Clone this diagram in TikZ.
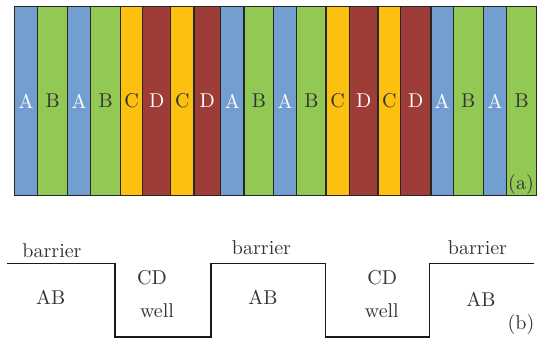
\documentclass[tikz,border=0pt]{standalone}
\begin{document}
\begin{tikzpicture}[x=0.5pt,y=-0.5pt,
  cell/.style={draw=black!85, line width=0.7pt, inner sep=0pt, minimum height=94.5pt, font=\fontsize{10}{12}\selectfont},
  cellA/.style={cell, fill=colA, text=white},
  cellB/.style={cell, fill=colB, text=black!80},
  cellC/.style={cell, fill=colC, text=black!80},
  cellD/.style={cell, fill=colD, text=white},
  lbl/.style={inner sep=0pt, text=black!80, font=\fontsize{10}{12}\selectfont},
  pot/.style={draw=black!90, line width=0.8pt}
]
\definecolor{colA}{RGB}{114,159,207}
\definecolor{colB}{RGB}{146,200,84}
\definecolor{colC}{RGB}{252,192,17}
\definecolor{colD}{RGB}{158,61,56}
\useasboundingbox (0,0) rectangle (544,338);
\foreach \i/\l/\r/\t in {1/14.3/37.7/A, 2/37.7/67.7/B, 3/67.7/90.7/A, 4/90.7/120.7/B,
  5/120.7/142.7/C, 6/142.7/170.7/D, 7/170.7/194/C, 8/194/220.7/D,
  9/220.7/244/A, 10/244/273.7/B, 11/273.7/296.7/A, 12/296.7/326/B,
  13/326/349.3/C, 14/349.3/378/D, 15/378/400.7/C, 16/400.7/431/D,
  17/431/453.3/A, 18/453.3/483.3/B, 19/483.3/506.7/A, 20/506.7/536.7/B}
{
  \node[cell\t, minimum width={(\r-\l)*0.5pt}] (c\i) at ({(\l+\r)/2},101) {\t};
}
\node[lbl] (la) at (521,184) {(a)};
% potential profile
\coordinate (p0) at (7,263.3);
\coordinate (p1) at (115,263.3);
\coordinate (p2) at (115,336.7);
\coordinate (p3) at (211,336.7);
\coordinate (p4) at (211,263.3);
\coordinate (p5) at (325.3,263.3);
\coordinate (p6) at (325.3,336.7);
\coordinate (p7) at (429.3,336.7);
\coordinate (p8) at (429.3,263.3);
\coordinate (p9) at (533.7,263.3);
\draw[pot] (p0) -- (p1) -- (p2) -- (p3) -- (p4) -- (p5) -- (p6) -- (p7) -- (p8) -- (p9);
\node[lbl] (b1) at (52,250.5) {barrier};
\node[lbl] (b2) at (261.5,247.5) {barrier};
\node[lbl] (b3) at (477.5,247.5) {barrier};
\node[lbl] (ab1) at (50.7,297.8) {AB};
\node[lbl] (ab2) at (263,297.8) {AB};
\node[lbl] (ab3) at (481,299.8) {AB};
\node[lbl] (cd1) at (152,278) {CD};
\node[lbl] (w1) at (157,311) {well};
\node[lbl] (cd2) at (382.3,278) {CD};
\node[lbl] (w2) at (381.8,311) {well};
\node[lbl] (lb) at (521,324) {(b)};
\end{tikzpicture}
\end{document}
